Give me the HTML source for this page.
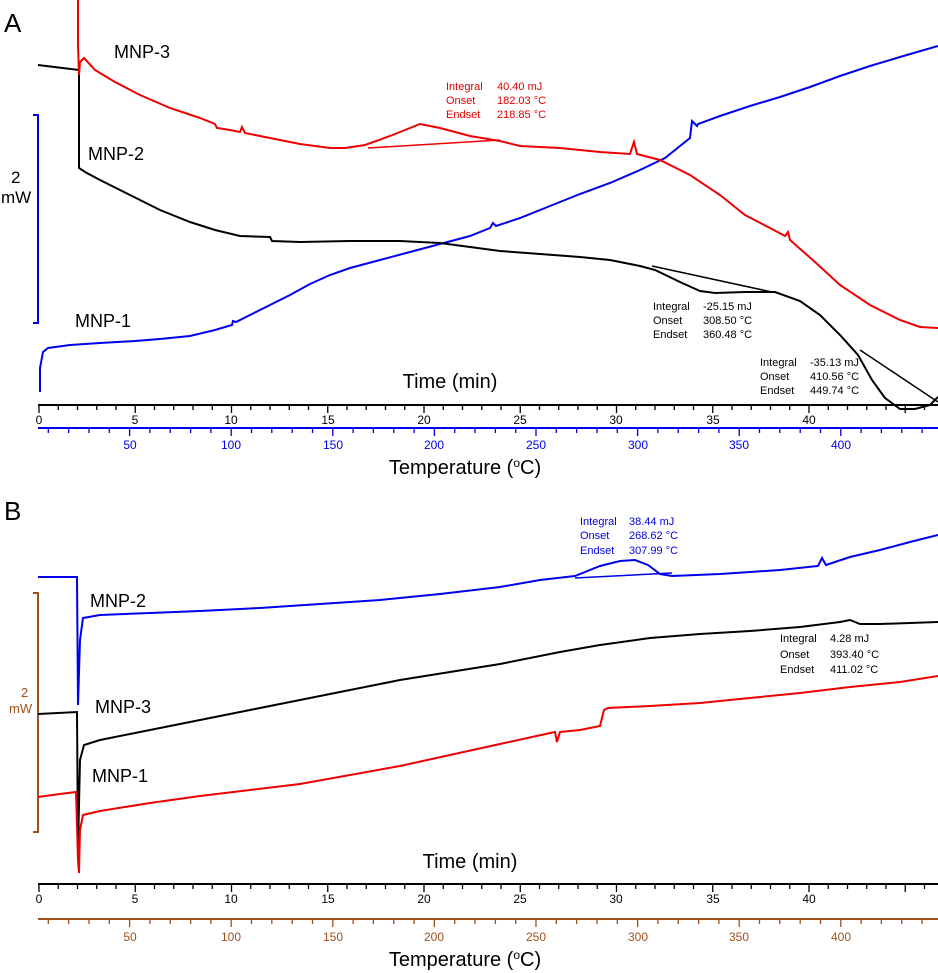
<!DOCTYPE html>
<html><head><meta charset="utf-8"><style>
body{margin:0;background:#fff}
svg{display:block;font-family:"Liberation Sans",Arial,sans-serif}
.s{font-size:11px}
.tl{font-size:12px;text-anchor:middle}
</style></head><body>
<svg width="938" height="973" viewBox="0 0 938 973" xmlns="http://www.w3.org/2000/svg">
<text x="4" y="32" font-size="26">A</text>
<path d="M33,115 H38 V323 H33" fill="none" stroke="#0000e0" stroke-width="2"/>
<text x="11" y="183" font-size="17">2</text>
<text x="1" y="203" font-size="17">mW</text>
<text x="114" y="58" font-size="18">MNP-3</text>
<text x="88" y="160" font-size="18">MNP-2</text>
<text x="75" y="327" font-size="18">MNP-1</text>
<polyline fill="none" stroke="#0000ee" stroke-width="2" points="40,392 40,368 43,352 48,348 70,345 100,343 135,341 160,339 190,336 215,330 232,325 233,321 236,322 250,315 270,305 290,295 310,284 330,275 350,268 380,260 410,252 440,244 470,236 490,228 493,223 496,226 520,218 550,206 580,194 610,183 640,170 665,158 690,138 692,121 697,126 698,124 720,116 750,106 780,97 810,87 840,76 870,66 900,57 938,46"/>
<polyline fill="none" stroke="#000" stroke-width="2" points="38,65 79,70 79,168 85,172 100,180 130,195 160,210 190,222 215,230 240,236 270,237 272,241 300,242 350,241 400,241 440,243 470,247 500,251 540,254 580,257 610,260 640,266 655,270 680,282 700,291 715,293 745,292 775,292 800,301 820,315 840,335 858,355 872,380 885,398 900,409 915,409 930,405 938,397"/>
<polyline fill="none" stroke="#000" stroke-width="1.5" points="652,266 772,292"/>
<polyline fill="none" stroke="#000" stroke-width="1.5" points="860,350 938,402"/>
<polyline fill="none" stroke="#ee0000" stroke-width="2" points="78,0 78,45 79,75 80,62 84,58 95,70 115,82 140,95 170,108 200,118 215,124 217,128 230,130 240,132 242,127 245,133 270,138 300,144 330,148 345,148 365,145 390,136 410,128 420,124 440,128 470,136 500,141 520,146 560,148 600,152 630,154 634,142 637,154 660,160 690,175 720,195 745,215 770,228 785,236 788,232 790,240 815,262 840,285 870,305 900,320 920,327 938,328"/>
<polyline fill="none" stroke="#ee0000" stroke-width="1.5" points="368,148 500,140"/>
<text class="s" fill="#e00000" x="446" y="90">Integral</text><text class="s" fill="#e00000" x="497" y="90">40.40 mJ</text>
<text class="s" fill="#e00000" x="446" y="104">Onset</text><text class="s" fill="#e00000" x="497" y="104">182.03 °C</text>
<text class="s" fill="#e00000" x="446" y="118">Endset</text><text class="s" fill="#e00000" x="497" y="118">218.85 °C</text>
<text class="s" x="653" y="310">Integral</text><text class="s" x="703" y="310">-25.15 mJ</text>
<text class="s" x="653" y="324">Onset</text><text class="s" x="703" y="324">308.50 °C</text>
<text class="s" x="653" y="338">Endset</text><text class="s" x="703" y="338">360.48 °C</text>
<text class="s" x="760" y="366">Integral</text><text class="s" x="810" y="366">-35.13 mJ</text>
<text class="s" x="760" y="380">Onset</text><text class="s" x="810" y="380">410.56 °C</text>
<text class="s" x="760" y="394">Endset</text><text class="s" x="810" y="394">449.74 °C</text>
<text x="450" y="388" font-size="20" text-anchor="middle">Time (min)</text>
<text x="465" y="474" font-size="20" text-anchor="middle">Temperature (<tspan font-size="12" dy="-7">o</tspan><tspan dy="7">C)</tspan></text>

<!-- Axes A -->
<g transform="translate(0,405)">
<line x1="38" y1="0" x2="938" y2="0" stroke="#000" stroke-width="2"/>
<path stroke="#000" stroke-width="1.3" fill="none" d="M39,0v8M58.25,0v5M77.5,0v5M96.75,0v5M116,0v5M135.25,0v8M154.5,0v5M173.75,0v5M193,0v5M212.25,0v5M231.5,0v8M250.75,0v5M270,0v5M289.25,0v5M308.5,0v5M327.75,0v8M347,0v5M366.25,0v5M385.5,0v5M404.75,0v5M424,0v8M443.25,0v5M462.5,0v5M481.75,0v5M501,0v5M520.25,0v8M539.5,0v5M558.75,0v5M578,0v5M597.25,0v5M616.5,0v8M635.75,0v5M655,0v5M674.25,0v5M693.5,0v5M712.75,0v8M732,0v5M751.25,0v5M770.5,0v5M789.75,0v5M809,0v8M828.25,0v5M847.5,0v5M866.75,0v5M886,0v5M905.25,0v8M924.5,0v5"/>
<g class="tl"><text x="39" y="19">0</text><text x="135" y="19">5</text><text x="231" y="19">10</text><text x="328" y="19">15</text><text x="424" y="19">20</text><text x="520" y="19">25</text><text x="616" y="19">30</text><text x="713" y="19">35</text><text x="809" y="19">40</text></g>
</g>
<g transform="translate(0,428)">
<line x1="38" y1="0" x2="938" y2="0" stroke="#0000ee" stroke-width="2"/>
<path stroke="#0000ee" stroke-width="1.3" fill="none" d="M48.3,0v5M68.6,0v5M89,0v5M109.3,0v5M129.6,0v8M149.9,0v5M170.2,0v5M190.6,0v5M210.9,0v5M231.2,0v8M251.5,0v5M271.8,0v5M292.2,0v5M312.5,0v5M332.8,0v8M353.1,0v5M373.4,0v5M393.8,0v5M414.1,0v5M434.4,0v8M454.7,0v5M475,0v5M495.4,0v5M515.7,0v5M536,0v8M556.3,0v5M576.6,0v5M597,0v5M617.3,0v5M637.6,0v8M657.9,0v5M678.2,0v5M698.6,0v5M718.9,0v5M739.2,0v8M759.5,0v5M779.8,0v5M800.2,0v5M820.5,0v5M840.8,0v8M861.1,0v5M881.4,0v5M901.8,0v5M922.1,0v5"/>
<g class="tl" fill="#0000ee"><text x="130" y="21">50</text><text x="231" y="21">100</text><text x="333" y="21">150</text><text x="434" y="21">200</text><text x="536" y="21">250</text><text x="638" y="21">300</text><text x="739" y="21">350</text><text x="841" y="21">400</text></g>
</g>

<text x="4" y="520" font-size="26">B</text>
<path d="M33,593 H38 V832 H33" fill="none" stroke="#a0501e" stroke-width="2"/>
<text x="21" y="697" font-size="13" fill="#a0501e">2</text>
<text x="9" y="713" font-size="13" fill="#a0501e">mW</text>
<text x="90" y="607" font-size="18">MNP-2</text>
<text x="95" y="713" font-size="18">MNP-3</text>
<text x="92" y="782" font-size="18">MNP-1</text>
<polyline fill="none" stroke="#0000ee" stroke-width="2" points="38,577 77,577 78,705 80,640 83,618 100,615 150,613 200,611 260,608 320,604 380,600 440,594 500,587 540,580 575,576 600,566 620,561 635,560 648,565 660,574 672,576 720,574 780,570 818,566 822,558 826,565 850,557 880,550 910,542 938,535"/>
<polyline fill="none" stroke="#0000ee" stroke-width="1.5" points="575,578 672,573"/>
<polyline fill="none" stroke="#000" stroke-width="2" points="38,714 77,712 78,850 80,760 84,745 100,740 150,730 200,720 250,710 300,700 350,690 400,680 450,672 500,664 560,652 600,645 650,638 700,634 750,631 800,627 840,622 850,620 860,624 880,624 938,622"/>
<polyline fill="none" stroke="#ee0000" stroke-width="2" points="38,797 60,794 76,792 78,860 79,873 80,830 83,815 100,811 150,803 200,796 250,790 300,784 350,775 400,766 450,755 500,744 555,732 557,742 560,732 580,730 600,726 604,710 608,708 650,706 700,703 750,698 800,693 850,687 900,682 938,676"/>
<text class="s" fill="#0000e0" x="580" y="525">Integral</text><text class="s" fill="#0000e0" x="629" y="525">38.44 mJ</text>
<text class="s" fill="#0000e0" x="580" y="539">Onset</text><text class="s" fill="#0000e0" x="629" y="539">268.62 °C</text>
<text class="s" fill="#0000e0" x="580" y="554">Endset</text><text class="s" fill="#0000e0" x="629" y="554">307.99 °C</text>
<text class="s" x="780" y="642">Integral</text><text class="s" x="830" y="642">4.28 mJ</text>
<text class="s" x="780" y="658">Onset</text><text class="s" x="830" y="658">393.40 °C</text>
<text class="s" x="780" y="673">Endset</text><text class="s" x="830" y="673">411.02 °C</text>
<text x="470" y="868" font-size="20" text-anchor="middle">Time (min)</text>
<text x="465" y="966" font-size="20" text-anchor="middle">Temperature (<tspan font-size="12" dy="-7">o</tspan><tspan dy="7">C)</tspan></text>

<!-- Axes B -->
<g transform="translate(0,884)">
<line x1="38" y1="0" x2="938" y2="0" stroke="#000" stroke-width="2"/>
<path stroke="#000" stroke-width="1.3" fill="none" d="M39,0v8M58.25,0v5M77.5,0v5M96.75,0v5M116,0v5M135.25,0v8M154.5,0v5M173.75,0v5M193,0v5M212.25,0v5M231.5,0v8M250.75,0v5M270,0v5M289.25,0v5M308.5,0v5M327.75,0v8M347,0v5M366.25,0v5M385.5,0v5M404.75,0v5M424,0v8M443.25,0v5M462.5,0v5M481.75,0v5M501,0v5M520.25,0v8M539.5,0v5M558.75,0v5M578,0v5M597.25,0v5M616.5,0v8M635.75,0v5M655,0v5M674.25,0v5M693.5,0v5M712.75,0v8M732,0v5M751.25,0v5M770.5,0v5M789.75,0v5M809,0v8M828.25,0v5M847.5,0v5M866.75,0v5M886,0v5M905.25,0v8M924.5,0v5"/>
<g class="tl"><text x="39" y="19">0</text><text x="135" y="19">5</text><text x="231" y="19">10</text><text x="328" y="19">15</text><text x="424" y="19">20</text><text x="520" y="19">25</text><text x="616" y="19">30</text><text x="713" y="19">35</text><text x="809" y="19">40</text></g>
</g>
<g transform="translate(0,919)">
<line x1="38" y1="0" x2="938" y2="0" stroke="#a0501e" stroke-width="2"/>
<path stroke="#a0501e" stroke-width="1.3" fill="none" d="M48.3,0v5M68.6,0v5M89,0v5M109.3,0v5M129.6,0v8M149.9,0v5M170.2,0v5M190.6,0v5M210.9,0v5M231.2,0v8M251.5,0v5M271.8,0v5M292.2,0v5M312.5,0v5M332.8,0v8M353.1,0v5M373.4,0v5M393.8,0v5M414.1,0v5M434.4,0v8M454.7,0v5M475,0v5M495.4,0v5M515.7,0v5M536,0v8M556.3,0v5M576.6,0v5M597,0v5M617.3,0v5M637.6,0v8M657.9,0v5M678.2,0v5M698.6,0v5M718.9,0v5M739.2,0v8M759.5,0v5M779.8,0v5M800.2,0v5M820.5,0v5M840.8,0v8M861.1,0v5M881.4,0v5M901.8,0v5M922.1,0v5"/>
<g class="tl" fill="#a0501e"><text x="130" y="22">50</text><text x="231" y="22">100</text><text x="333" y="22">150</text><text x="434" y="22">200</text><text x="536" y="22">250</text><text x="638" y="22">300</text><text x="739" y="22">350</text><text x="841" y="22">400</text></g>
</g>
</svg>
</body></html>
